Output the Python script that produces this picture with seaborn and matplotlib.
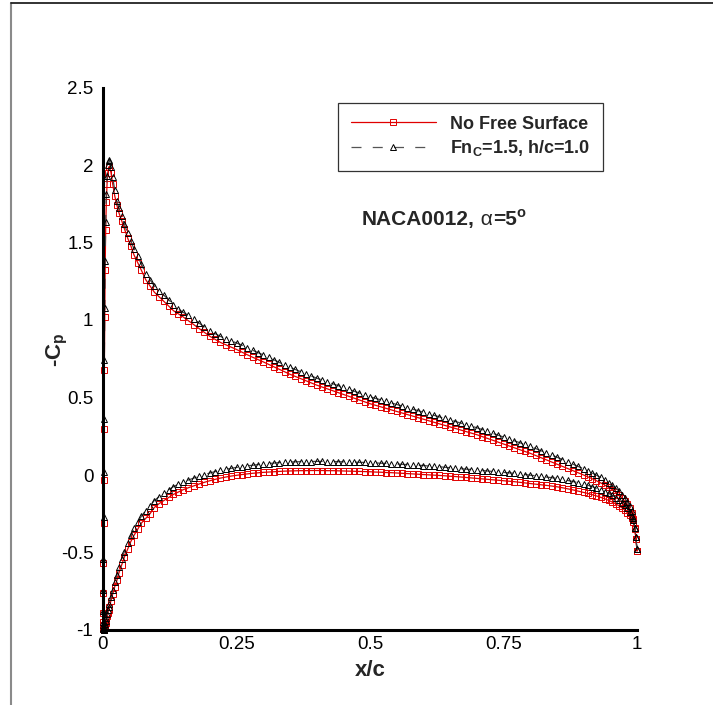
import matplotlib
matplotlib.use("Agg")
import matplotlib.pyplot as plt
from matplotlib.lines import Line2D
from matplotlib.ticker import MultipleLocator, FuncFormatter
import seaborn as sns
import pandas as pd

# ---------------- data ----------------
x_c = [0.0, 0.0002, 0.0004, 0.0007, 0.001, 0.0014, 0.0019, 0.0025, 0.0032, 0.004,
       0.005, 0.0062, 0.0076, 0.009, 0.0105, 0.012,
       0.015, 0.018, 0.022, 0.026, 0.030, 0.035, 0.040, 0.046, 0.052, 0.058,
       0.065, 0.072, 0.080, 0.088, 0.096, 0.105, 0.114, 0.123, 0.132, 0.141,
       0.150, 0.16, 0.17, 0.18, 0.19, 0.20, 0.21, 0.22, 0.23, 0.24,
       0.25, 0.26, 0.27, 0.28, 0.29, 0.30, 0.31, 0.32, 0.33, 0.34,
       0.35, 0.36, 0.37, 0.38, 0.39, 0.40, 0.41, 0.42, 0.43, 0.44,
       0.45, 0.46, 0.47, 0.48, 0.49, 0.50, 0.51, 0.52, 0.53, 0.54,
       0.55, 0.56, 0.57, 0.58, 0.59, 0.60, 0.61, 0.62, 0.63, 0.64,
       0.65, 0.66, 0.67, 0.68, 0.69, 0.70, 0.71, 0.72, 0.73, 0.74,
       0.75, 0.76, 0.77, 0.78, 0.79, 0.80, 0.81, 0.82, 0.83, 0.84,
       0.85, 0.86, 0.87, 0.88, 0.89, 0.90, 0.908, 0.916, 0.924, 0.932,
       0.940, 0.947, 0.954, 0.960, 0.966, 0.972, 0.977, 0.982, 0.986, 0.990,
       0.993, 0.996, 0.998, 1.0]

# -Cp, No Free Surface
cp_upper_nfs = [-0.95, -0.89, -0.76, -0.57, -0.31, -0.03, 0.30, 0.68, 1.02, 1.32,
                1.58, 1.76, 1.88, 1.95, 1.985, 1.99,
                1.95, 1.88, 1.80, 1.74, 1.69, 1.64, 1.59, 1.53, 1.48, 1.42,
                1.37, 1.32, 1.26, 1.22, 1.18, 1.15, 1.12, 1.09, 1.06, 1.04,
                1.02, 0.995, 0.97, 0.945, 0.92, 0.895, 0.875, 0.855, 0.84, 0.825,
                0.81, 0.793, 0.776, 0.76, 0.745, 0.73, 0.714, 0.698, 0.682, 0.666,
                0.65, 0.636, 0.622, 0.608, 0.594, 0.58, 0.568, 0.556, 0.544, 0.532,
                0.52, 0.508, 0.496, 0.484, 0.472, 0.46, 0.45, 0.44, 0.43, 0.42,
                0.41, 0.40, 0.39, 0.38, 0.37, 0.36, 0.35, 0.34, 0.33, 0.32,
                0.31, 0.30, 0.29, 0.28, 0.27, 0.26, 0.248, 0.236, 0.224, 0.212,
                0.20, 0.188, 0.176, 0.164, 0.152, 0.14, 0.126, 0.112, 0.098, 0.084,
                0.07, 0.056, 0.042, 0.028, 0.014, 0.0, -0.012, -0.024, -0.037, -0.051,
                -0.066, -0.080, -0.096, -0.111, -0.128, -0.147, -0.17, -0.19, -0.215, -0.245,
                -0.285, -0.345, -0.41, -0.49]
cp_lower_nfs = [-0.95, -0.97, -0.985, -0.995, -1.0, -1.0, -1.0, -0.995, -0.985, -0.97,
                -0.955, -0.935, -0.91, -0.89, -0.87, -0.85,
                -0.81, -0.77, -0.72, -0.68, -0.63, -0.58, -0.53, -0.48, -0.43, -0.39,
                -0.35, -0.31, -0.28, -0.25, -0.21, -0.185, -0.165, -0.145, -0.125, -0.11,
                -0.095, -0.082, -0.07, -0.058, -0.047, -0.037, -0.028, -0.02, -0.013, -0.007,
                -0.002, 0.003, 0.007, 0.011, 0.014, 0.017, 0.019, 0.021, 0.023, 0.025,
                0.026, 0.027, 0.028, 0.028, 0.029, 0.029, 0.029, 0.028, 0.028, 0.027,
                0.026, 0.025, 0.024, 0.023, 0.022, 0.021, 0.019, 0.018, 0.016, 0.015,
                0.013, 0.011, 0.009, 0.007, 0.005, 0.003, 0.001, -0.001, -0.003, -0.005,
                -0.008, -0.01, -0.013, -0.016, -0.019, -0.022, -0.025, -0.028, -0.031, -0.034,
                -0.037, -0.04, -0.043, -0.047, -0.051, -0.055, -0.059, -0.063, -0.067, -0.071,
                -0.076, -0.082, -0.089, -0.096, -0.104, -0.112, -0.119, -0.127, -0.135, -0.144,
                -0.154, -0.164, -0.175, -0.186, -0.198, -0.212, -0.226, -0.243, -0.26, -0.28,
                -0.305, -0.35, -0.41, -0.49]

# -Cp, Fn_C = 1.5, h/c = 1.0
cp_upper_fs = [-0.95, -0.88, -0.74, -0.54, -0.27, 0.02, 0.36, 0.74, 1.08, 1.38,
               1.63, 1.81, 1.93, 2.00, 2.025, 2.03,
               1.99, 1.92, 1.84, 1.77, 1.72, 1.67, 1.62, 1.56, 1.51, 1.46,
               1.41, 1.36, 1.30, 1.26, 1.22, 1.19, 1.16, 1.13, 1.10, 1.07,
               1.05, 1.03, 1.005, 0.98, 0.955, 0.93, 0.912, 0.894, 0.879, 0.865,
               0.852, 0.838, 0.821, 0.805, 0.79, 0.775, 0.759, 0.743, 0.727, 0.711,
               0.695, 0.681, 0.667, 0.653, 0.639, 0.625, 0.613, 0.601, 0.589, 0.577,
               0.565, 0.553, 0.541, 0.529, 0.517, 0.505, 0.495, 0.485, 0.475, 0.465,
               0.455, 0.445, 0.435, 0.425, 0.415, 0.405, 0.395, 0.385, 0.375, 0.365,
               0.355, 0.345, 0.335, 0.325, 0.315, 0.305, 0.293, 0.281, 0.269, 0.257,
               0.245, 0.233, 0.221, 0.209, 0.197, 0.185, 0.171, 0.157, 0.143, 0.129,
               0.115, 0.10, 0.085, 0.07, 0.055, 0.04, 0.027, 0.013, -0.001, -0.016,
               -0.033, -0.049, -0.067, -0.084, -0.104, -0.126, -0.15, -0.175, -0.20, -0.235,
               -0.28, -0.34, -0.40, -0.48]
cp_lower_fs = [-0.95, -0.97, -0.985, -0.995, -1.0, -1.0, -0.995, -0.985, -0.975, -0.96,
               -0.94, -0.92, -0.895, -0.87, -0.85, -0.83,
               -0.79, -0.745, -0.69, -0.645, -0.595, -0.545, -0.495, -0.44, -0.39, -0.345,
               -0.305, -0.265, -0.23, -0.20, -0.165, -0.14, -0.115, -0.095, -0.075, -0.06,
               -0.045, -0.032, -0.02, -0.008, 0.003, 0.013, 0.022, 0.03, 0.037, 0.043,
               0.049, 0.054, 0.059, 0.063, 0.067, 0.071, 0.074, 0.077, 0.08, 0.082,
               0.084, 0.085, 0.086, 0.087, 0.087, 0.088, 0.088, 0.087, 0.087, 0.086,
               0.085, 0.084, 0.083, 0.082, 0.081, 0.079, 0.078, 0.076, 0.075, 0.073,
               0.071, 0.069, 0.067, 0.065, 0.063, 0.061, 0.058, 0.056, 0.053, 0.05,
               0.047, 0.044, 0.041, 0.038, 0.035, 0.032, 0.029, 0.026, 0.023, 0.02,
               0.017, 0.014, 0.011, 0.007, 0.003, -0.001, -0.005, -0.009, -0.013, -0.017,
               -0.022, -0.028, -0.035, -0.042, -0.05, -0.058, -0.066, -0.075, -0.085, -0.095,
               -0.107, -0.119, -0.132, -0.146, -0.161, -0.178, -0.195, -0.215, -0.236, -0.262,
               -0.29, -0.34, -0.40, -0.48]

labels = ["No Free Surface", r"Fn$_\mathbf{C}$=1.5, h/c=1.0"]
x_ticks = [0, 0.25, 0.5, 0.75, 1]
y_ticks = [-1, -0.5, 0, 0.5, 1, 1.5, 2, 2.5]

# ---------------- style ----------------
sns.set_style("white")
FONT = "Liberation Sans"
plt.rcParams["font.family"] = [FONT, "DejaVu Sans"]
plt.rcParams["mathtext.fontset"] = "custom"
plt.rcParams["mathtext.rm"] = FONT
plt.rcParams["mathtext.bf"] = FONT + ":bold"
plt.rcParams["mathtext.it"] = FONT + ":italic"
plt.rcParams["axes.unicode_minus"] = False

W, H = 713, 705
fig = plt.figure(figsize=(W / 100, H / 100), dpi=100)
ax = fig.add_axes([103 / W, 1 - 630 / H, (637 - 103) / W, (630 - 87.5) / H])


def loop(upper, lower):
    xs = x_c[::-1] + x_c[1:]
    ys = upper[::-1] + lower[1:]
    return pd.DataFrame({"x": xs, "cp": ys})


red = "#e00000"
d_nfs = loop(cp_upper_nfs, cp_lower_nfs)
d_fs = loop(cp_upper_fs, cp_lower_fs)

sns.lineplot(data=d_nfs, x="x", y="cp", sort=False, estimator=None, ax=ax,
             color=red, linewidth=0.9, marker="s", markersize=4,
             markerfacecolor="none", markeredgecolor=red, markeredgewidth=0.7,
             clip_on=False, legend=False)
sns.lineplot(data=d_fs, x="x", y="cp", sort=False, estimator=None, ax=ax,
             color="#444444", linewidth=0.9, linestyle=(0, (8, 9)), marker="^",
             markersize=4.5, markerfacecolor="none", markeredgecolor="black",
             markeredgewidth=0.7, clip_on=False, legend=False)

ax.set_xlim(0, 1)
ax.set_ylim(-1, 2.5)
ax.set_xticks(x_ticks)
ax.set_yticks(y_ticks)
fmt = FuncFormatter(lambda v, p: f"{v:g}")
ax.xaxis.set_major_formatter(fmt)
ax.yaxis.set_major_formatter(fmt)
ax.xaxis.set_minor_locator(MultipleLocator(0.05))
ax.yaxis.set_minor_locator(MultipleLocator(0.1))
ax.tick_params(which="major", direction="in", length=9, width=1.6,
               labelsize=13.5, colors="black")
ax.tick_params(axis="x", which="major", pad=4)
ax.tick_params(axis="y", which="major", pad=7)
ax.tick_params(which="minor", direction="in", length=5, width=0.8, colors="black")
for s in ["top", "right"]:
    ax.spines[s].set_visible(False)
for s in ["left", "bottom"]:
    ax.spines[s].set_linewidth(2.2)
    ax.spines[s].set_color("black")
    ax.spines[s].set_capstyle("projecting")

ax.set_xlabel("x/c", fontsize=16, fontweight="bold")
ax.set_ylabel(r"-C$_\mathbf{p}$", fontsize=16, fontweight="bold")
ax.xaxis.set_label_coords(0.5, (630 - 660) / 542.5)
ax.yaxis.set_label_coords((70 - 103) / 534, (630 - 350) / 542.5)

# legend
h1 = Line2D([], [], color=red, lw=0.9, marker="s", markersize=4,
            markerfacecolor="none", markeredgecolor=red, markeredgewidth=0.7)
h2 = Line2D([], [], color="#555555", lw=0.9, ls=(0, (8, 9)), marker="^",
            markersize=4.5, markerfacecolor="none", markeredgecolor="black",
            markeredgewidth=0.7)
leg = ax.legend([h1, h2], labels, loc="upper left",
                bbox_to_anchor=(338 / W, 1 - 103 / H), bbox_transform=fig.transFigure,
                frameon=True, fancybox=False, framealpha=1, edgecolor="#333333",
                prop={"weight": "bold", "size": 13}, handlelength=4.7,
                handletextpad=0.8, borderpad=0.7, labelspacing=0.3,
                borderaxespad=0, numpoints=1)
leg.get_frame().set_linewidth(0.9)

# annotation NACA0012, alpha=5 deg
t1 = fig.text(362 / W, 1 - 225 / H, "NACA0012,", fontsize=15, fontweight="bold",
              ha="left", va="baseline")
t2 = ax.annotate(" α", xy=(1, 0), xycoords=t1, ha="left", va="bottom",
                 fontsize=15, fontweight="normal")
t3 = ax.annotate("=5", xy=(1, 0), xycoords=t2, ha="left", va="bottom",
                 fontsize=15, fontweight="bold")
t4 = ax.annotate("o", xy=(1, 0.45), xycoords=t3, ha="left", va="bottom",
                 fontsize=10.5, fontweight="bold")

# outer frame (left and top edges)
fig.add_artist(Line2D([10.5 / W, 10.5 / W], [0, 1 - 3 / H], color="#8a8a8a", lw=1.5,
                      transform=fig.transFigure))
fig.add_artist(Line2D([10.5 / W, 1], [1 - 3 / H, 1 - 3 / H], color="#222222", lw=1.3,
                      transform=fig.transFigure))

fig.savefig("out.png", dpi=100)
